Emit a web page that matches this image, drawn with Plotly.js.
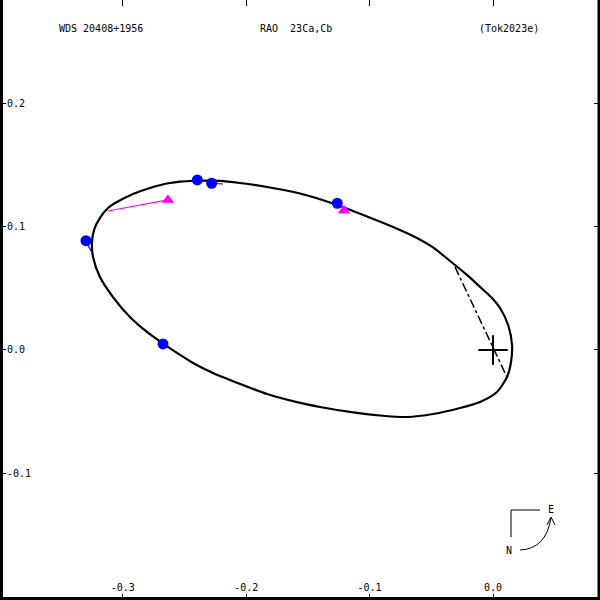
<!DOCTYPE html>
<html>
<head>
<meta charset="utf-8">
<script src="https://cdn.plot.ly/plotly-3.0.1.min.js"></script>
<style>html,body{margin:0;padding:0;background:#fff}#chart{width:600px;height:600px}</style>
</head>
<body>
<div id="chart"></div>
<script>
// Apparent orbit, arcsec
var orbitX = [-0.3250,-0.3233,-0.3185,-0.3120,-0.3047,-0.2917,-0.2780,-0.2618,-0.2431,-0.2212,-0.2050,-0.1831,-0.1580,-0.1297,-0.1021,-0.0810,-0.0616,-0.0486,-0.0348,-0.0211,-0.0105,-0.0008,0.0057,0.0122,0.0154,0.0146,0.0113,0.0032,-0.0105,-0.0267,-0.0486,-0.0697,-0.0916,-0.1159,-0.1402,-0.1580,-0.1831,-0.2026,-0.2269,-0.2431,-0.2561,-0.2682,-0.2804,-0.2942,-0.3079,-0.3185,-0.3241,-0.3250];
var orbitY = [0.0867,0.0972,0.1070,0.1151,0.1199,0.1264,0.1313,0.1353,0.1370,0.1370,0.1353,0.1321,0.1272,0.1187,0.1082,0.0997,0.0908,0.0831,0.0721,0.0608,0.0511,0.0421,0.0340,0.0203,0.0041,-0.0097,-0.0219,-0.0340,-0.0421,-0.0470,-0.0519,-0.0543,-0.0531,-0.0502,-0.0462,-0.0425,-0.0357,-0.0284,-0.0186,-0.0105,-0.0024,0.0057,0.0146,0.0267,0.0429,0.0592,0.0754,0.0867];
// Line of nodes
var nodeX = [-0.0308, 0.0113];
var nodeY = [0.0673, -0.0219];
// Observations (blue dots) and their predicted positions on the orbit
var obsX = [-0.3298, -0.2674, -0.2396, -0.2280, -0.1262];
var obsY = [0.0886, 0.0049, 0.1378, 0.1351, 0.1189];
var obsFitX = [-0.3258, -0.2666, -0.2382, -0.2188, -0.1248];
var obsFitY = [0.0802, 0.0041, 0.1370, 0.1345, 0.1183];
// Other measurements (magenta triangles) and their predicted positions
var triX = [-0.2634, -0.1207];
var triY = [0.1216, 0.1130];
var triFitX = [-0.3120, -0.1232];
var triFitY = [0.1126, 0.1175];
// Primary position
var primX = [0.0];
var primY = [0.0];
// Tick labels
var xTickVals = [-0.4, -0.3, -0.2, -0.1, 0.0];
var xTickText = ["-0.4", "-0.3", "-0.2", "-0.1", "0.0"];
var yTickVals = [0.2, 0.1, 0.0, -0.1, -0.2];
var yTickText = ["0.2", "0.1", "0.0", "-0.1", "-0.2"];
// Header texts
var headerTexts = ["WDS 20408+1956", "RAO  23Ca,Cb", "(Tok2023e)"];

var FONT = "DejaVu Sans Mono, Liberation Mono, monospace";

function segs(ax, ay, bx, by) {
  var x = [], y = [];
  for (var i = 0; i < ax.length; i++) { x.push(ax[i], bx[i], null); y.push(ay[i], by[i], null); }
  return {x: x, y: y};
}
var obsSeg = segs(obsX, obsY, obsFitX, obsFitY);
var triSeg = segs(triFitX, triFitY, triX, triY);

var traces = [
  {x: orbitX, y: orbitY, mode: 'lines', line: {color: '#000', width: 2.2, shape: 'spline', smoothing: 0.7}, hoverinfo: 'skip'},
  {x: nodeX, y: nodeY, mode: 'lines', line: {color: '#000', width: 1.5, dash: 'dashdot'}, hoverinfo: 'skip'},
  {x: obsSeg.x, y: obsSeg.y, mode: 'lines', line: {color: '#0000ff', width: 1.2}, hoverinfo: 'skip'},
  {x: triSeg.x, y: triSeg.y, mode: 'lines', line: {color: '#ff00ff', width: 1.2}, hoverinfo: 'skip'},
  {x: obsX, y: obsY, mode: 'markers', marker: {symbol: 'circle', size: 11, color: '#0000ff'}, hoverinfo: 'skip'},
  {x: triX, y: triY, mode: 'markers', marker: {symbol: 'triangle-up', size: 11, color: '#ff00ff'}, hoverinfo: 'skip'},
  {x: primX, y: primY, mode: 'markers', marker: {symbol: 'cross-thin', size: 21, color: '#000', line: {color: '#000', width: 2}}, hoverinfo: 'skip'}
];

var annotations = [
  {text: headerTexts[0], x: 57/600, y: 1 - 28.5/600},
  {text: headerTexts[1], x: 258/600, y: 1 - 28.5/600},
  {text: headerTexts[2], x: 477/600, y: 1 - 28.5/600},
  {text: "E", x: 546/600, y: 1 - 509/600},
  {text: "N", x: 504/600, y: 1 - 550/600}
].map(function (a) {
  return Object.assign({xref: 'paper', yref: 'paper', xanchor: 'left', yanchor: 'middle', showarrow: false,
    font: {family: FONT, size: 10, color: '#000'}}, a);
});

function P(px, py) { return (px/600).toFixed(4) + ',' + (1 - py/600).toFixed(4); }

var shapes = [
  {type: 'line', xref: 'paper', yref: 'paper', x0: 0, x1: 0, y0: 0, y1: 1, line: {color: '#000', width: 6}},
  {type: 'line', xref: 'paper', yref: 'paper', x0: 0, x1: 1, y0: 0, y1: 0, line: {color: '#000', width: 6}},
  {type: 'line', xref: 'paper', yref: 'paper', x0: 1, x1: 1, y0: 0, y1: 1, line: {color: '#000', width: 5}},
  // compass
  {type: 'path', xref: 'paper', yref: 'paper', path: 'M' + P(540, 510) + 'L' + P(511, 510) + 'L' + P(511, 537), line: {color: '#000', width: 1}},
  {type: 'path', xref: 'paper', yref: 'paper', path: 'M' + P(520, 550) + 'Q' + P(546, 549) + ' ' + P(551, 518), line: {color: '#000', width: 1}},
  {type: 'path', xref: 'paper', yref: 'paper', path: 'M' + P(547, 525) + 'L' + P(551, 517) + 'L' + P(555, 525), line: {color: '#000', width: 1}}
];

var axisCommon = {
  showgrid: false, zeroline: false, showline: false,
  ticks: 'inside', ticklen: 6, tickwidth: 1, tickcolor: '#000', mirror: 'ticks',
  tickmode: 'array', ticklabelposition: 'inside',
  tickfont: {family: FONT, size: 10, color: '#000'}, fixedrange: true
};

var layout = {
  width: 600, height: 600, autosize: false,
  margin: {l: 0, r: 0, t: 0, b: 0, pad: 0},
  paper_bgcolor: '#fff', plot_bgcolor: '#fff',
  showlegend: false,
  xaxis: Object.assign({}, axisCommon, {range: [-0.3995, 0.0867], tickvals: xTickVals, ticktext: xTickText}),
  yaxis: Object.assign({}, axisCommon, {range: [-0.2026, 0.2836], tickvals: yTickVals, ticktext: yTickText}),
  annotations: annotations,
  shapes: shapes
};

Plotly.newPlot('chart', traces, layout, {staticPlot: true, displayModeBar: false});
</script>
</body>
</html>
